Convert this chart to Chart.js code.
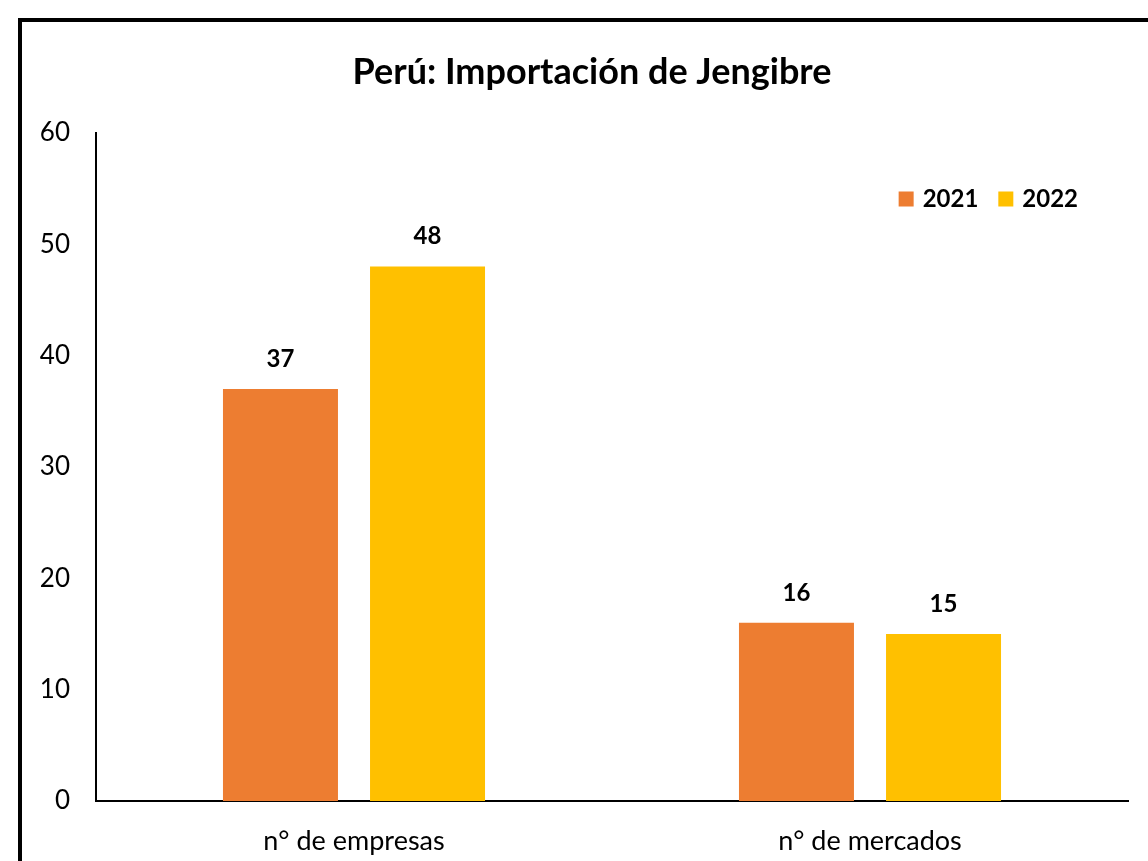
<!DOCTYPE html>
<html>
<head>
<meta charset="utf-8">
<script src="https://cdn.jsdelivr.net/npm/chart.js@4/dist/chart.umd.min.js"></script>
<style>
  html, body { margin: 0; padding: 0; background: #fff; }
  #wrap { width: 1148px; height: 861px; position: relative; }
</style>
</head>
<body>
<div id="wrap"><canvas id="chart" width="1148" height="861"></canvas></div>
<script>
// Datos
const titulo = 'Perú: Importación de Jengibre';
const categorias = ['n° de empresas', 'n° de mercados'];
const anios = ['2021', '2022'];
const valores2021 = [37, 16];
const valores2022 = [48, 15];
const colores = ['#ED7D31', '#FFC000'];

const fuente = 'Lato, "Open Sans", sans-serif';

// marco negro y titulo
const marco = {
  id: 'marco',
  beforeDraw(chart) {
    const ctx = chart.ctx;
    ctx.save();
    ctx.fillStyle = '#fff';
    ctx.fillRect(0, 0, chart.width, chart.height);
    ctx.strokeStyle = '#000';
    ctx.lineWidth = 4;
    ctx.strokeRect(20, 20, chart.width + 20, chart.height + 20);
    ctx.font = 'bold 36px ' + fuente;
    ctx.fillStyle = '#000';
    ctx.textAlign = 'center';
    ctx.textBaseline = 'middle';
    ctx.fillText(titulo, chart.width / 2 + 18, 72);
    ctx.restore();
  }
};

// etiquetas de valor encima de cada barra
const etiquetas = {
  id: 'etiquetas',
  afterDatasetsDraw(chart) {
    const ctx = chart.ctx;
    ctx.save();
    ctx.font = 'bold 24px ' + fuente;
    ctx.fillStyle = '#000';
    ctx.textAlign = 'center';
    ctx.textBaseline = 'middle';
    chart.data.datasets.forEach((ds, i) => {
      chart.getDatasetMeta(i).data.forEach((bar, j) => {
        ctx.fillText(ds.data[j], bar.x, bar.y - 30);
      });
    });
    ctx.restore();
  }
};

// leyenda dentro del area del grafico, arriba a la derecha
const leyenda = {
  id: 'leyenda',
  afterDraw(chart) {
    const ctx = chart.ctx;
    const area = chart.chartArea;
    ctx.save();
    ctx.font = 'bold 24px ' + fuente;
    ctx.textBaseline = 'middle';
    const caja = 15, sep = 9, hueco = 20;
    const anchos = chart.data.datasets.map(ds => caja + sep + ctx.measureText(ds.label).width);
    const total = anchos.reduce((a, b) => a + b, 0) + hueco * (anchos.length - 1);
    let x = area.right - 50 - total;
    const y = area.top + 66;
    chart.data.datasets.forEach((ds, i) => {
      ctx.fillStyle = ds.backgroundColor;
      ctx.fillRect(x, y - caja / 2, caja, caja);
      ctx.fillStyle = '#000';
      ctx.fillText(ds.label, x + caja + sep, y);
      x += anchos[i] + hueco;
    });
    ctx.restore();
  }
};

new Chart(document.getElementById('chart').getContext('2d'), {
  type: 'bar',
  data: {
    labels: categorias,
    datasets: [
      { label: anios[0], data: valores2021, backgroundColor: colores[0] },
      { label: anios[1], data: valores2022, backgroundColor: colores[1] },
    ],
  },
  options: {
    responsive: false,
    animation: false,
    layout: { padding: { left: 36, right: 20, top: 133, bottom: 0 } },
    datasets: { bar: { categoryPercentage: 0.57, barPercentage: 0.782 } },
    plugins: {
      legend: { display: false },
      tooltip: { enabled: false },
      title: { display: false },
    },
    scales: {
      x: {
        grid: { display: false, drawTicks: false },
        border: { display: true, color: '#000', width: 2 },
        ticks: { color: '#000', font: { family: fuente, size: 27 }, padding: 24 },
        afterFit(scale) { scale.height = 60; },
      },
      y: {
        min: 0,
        max: 60,
        grid: { display: false, drawTicks: false },
        border: { display: true, color: '#000', width: 2 },
        ticks: { stepSize: 10, color: '#000', font: { family: fuente, size: 26 }, padding: 26 },
        afterFit(scale) { scale.width = 60; },
      },
    },
  },
  plugins: [marco, etiquetas, leyenda],
});
</script>
</body>
</html>
